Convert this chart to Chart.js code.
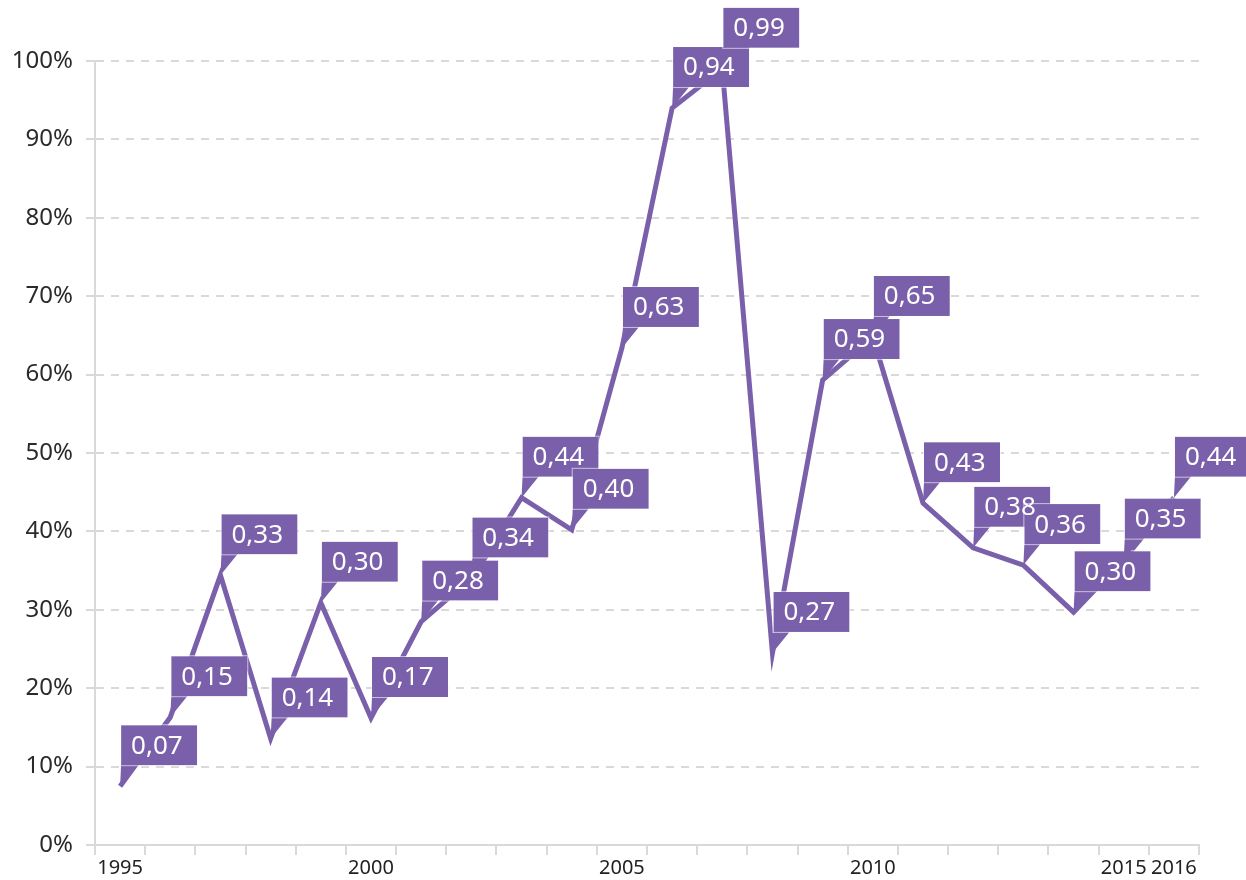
<!DOCTYPE html>
<html>
<head>
<meta charset="utf-8">
<script src="https://cdn.jsdelivr.net/npm/chart.js@4/dist/chart.umd.min.js"></script>
<style>
  html, body { margin: 0; padding: 0; background: #fff; }
  #wrap { width: 1246px; height: 880px; position: relative; }
</style>
</head>
<body>
<div id="wrap"><canvas id="chart"></canvas></div>
<script>
// years on the x axis
var years = ['1995', '1996', '1997', '1998', '1999', '2000', '2001', '2002', '2003', '2004', '2005',
             '2006', '2007', '2008', '2009', '2010', '2011', '2012', '2013', '2014', '2015', '2016'];

// line values
var values = [0.075, 0.163, 0.344, 0.136, 0.309, 0.162, 0.285, 0.34, 0.443, 0.402, 0.634,
              0.94, 0.99, 0.245, 0.593, 0.648, 0.436, 0.379, 0.357, 0.297, 0.364, 0.443];

// text printed in the callouts
var calloutText = ['0,07', '0,15', '0,33', '0,14', '0,30', '0,17', '0,28', '0,34', '0,44', '0,40', '0,63',
                   '0,94', '0,99', '0,27', '0,59', '0,65', '0,43', '0,38', '0,36', '0,30', '0,35', '0,44'];

// years that get a label under the axis
var shownYears = ['1995', '2000', '2005', '2010', '2015', '2016'];

var yTicks = [0, 0.1, 0.2, 0.3, 0.4, 0.5, 0.6, 0.7, 0.8, 0.9, 1];

var purple = '#7a60aa';
var gridGrey = '#d9d9d9';

// purple boxes with a little tail pointing at each point, texts drawn last
var calloutPlugin = {
    id: 'callouts',
    afterDatasetsDraw: function (chart) {
        var ctx = chart.ctx;
        var meta = chart.getDatasetMeta(0);
        var w = 76, h = 40, gap = 21;
        var boxes = [];
        ctx.save();
        for (var i = 0; i < meta.data.length; i++) {
            var pt = meta.data[i];
            var bx = pt.x + 1;
            var bottom = pt.y - gap;
            var top = bottom - h;
            boxes.push({ x: bx, top: top });

            ctx.fillStyle = purple;
            ctx.beginPath();
            ctx.moveTo(bx, top);
            ctx.lineTo(bx + w, top);
            ctx.lineTo(bx + w, bottom);
            ctx.lineTo(bx + 16, bottom);
            ctx.lineTo(pt.x, pt.y);
            ctx.lineTo(bx, bottom);
            ctx.closePath();
            ctx.fill();
            ctx.strokeStyle = 'rgba(255,255,255,0.6)';
            ctx.lineWidth = 1;
            ctx.strokeRect(bx - 0.5, top - 0.5, w + 1, h + 1);
        }
        ctx.font = '26px "Noto Sans", sans-serif';
        ctx.textBaseline = 'middle';
        ctx.textAlign = 'left';
        ctx.fillStyle = '#ffffff';
        for (var j = 0; j < boxes.length; j++) {
            ctx.fillText(calloutText[j], boxes[j].x + 10, boxes[j].top + h / 2 + 1);
        }
        ctx.restore();
    }
};

new Chart(document.getElementById('chart'), {
    type: 'line',
    data: {
        labels: years,
        datasets: [{
            data: values,
            borderColor: purple,
            borderWidth: 5,
            borderJoinStyle: 'miter',
            tension: 0,
            pointRadius: 0,
            pointHoverRadius: 0,
            fill: false,
            clip: false
        }]
    },
    options: {
        responsive: true,
        maintainAspectRatio: false,
        animation: false,
        events: [],
        layout: { padding: { top: 61, right: 47, left: 0, bottom: 0 } },
        plugins: {
            legend: { display: false },
            tooltip: { enabled: false }
        },
        scales: {
            x: {
                type: 'category',
                offset: true,
                grid: {
                    offset: true,
                    drawOnChartArea: false,
                    drawTicks: true,
                    tickLength: 10,
                    color: gridGrey,
                    lineWidth: 2
                },
                border: { display: true, color: gridGrey, width: 2 },
                ticks: {
                    autoSkip: false,
                    maxRotation: 0,
                    padding: 1,
                    color: '#222',
                    font: { family: '"Noto Sans", sans-serif', size: 20 },
                    callback: function (val, idx) {
                        var y = years[idx];
                        return shownYears.indexOf(y) >= 0 ? y : '';
                    }
                },
                afterFit: function (scale) { scale.height = 35; }
            },
            y: {
                min: 0,
                max: 1,
                afterBuildTicks: function (scale) {
                    scale.ticks = yTicks.map(function (v) { return { value: v }; });
                },
                grid: {
                    color: gridGrey,
                    lineWidth: 2,
                    tickLength: 9,
                    drawTicks: true
                },
                border: { display: true, color: gridGrey, width: 2, dash: [8, 7] },
                ticks: {
                    padding: 13,
                    color: '#2a2a2a',
                    font: { family: '"Noto Sans", sans-serif', size: 24 },
                    callback: function (v) { return Math.round(v * 100) + '%'; }
                },
                afterFit: function (scale) { scale.width = 95; }
            }
        }
    },
    plugins: [calloutPlugin]
});
</script>
</body>
</html>
